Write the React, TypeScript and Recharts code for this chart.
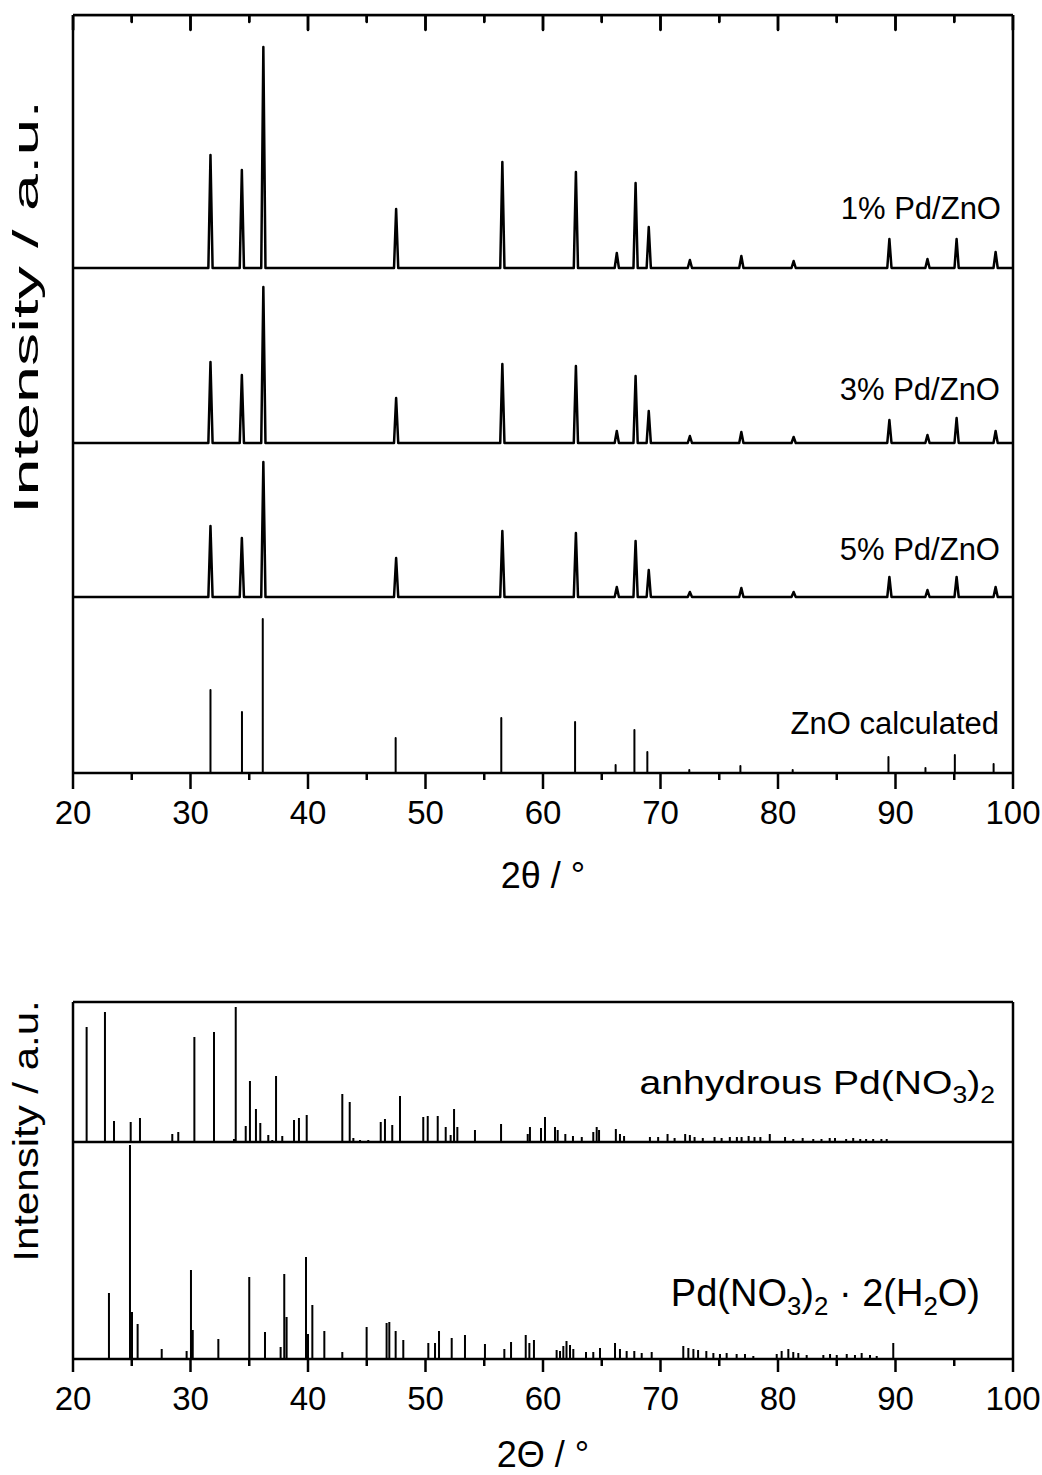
import React from "react";
import { ComposedChart, Line, XAxis, YAxis, ReferenceLine } from "recharts";

const FONT = '"Liberation Sans", Arial, Helvetica, sans-serif';

// 2θ ticks, labels only on the tens
const TICKS = [20, 25, 30, 35, 40, 45, 50, 55, 60, 65, 70, 75, 80, 85, 90, 95, 100];

// ---- top panel: ZnO reflections ----
const ZNO_POS = [31.7, 34.37, 36.2, 47.5, 56.54, 62.8, 66.28, 67.88, 69.0, 72.5, 76.88, 81.33, 89.48, 92.72, 95.2, 98.52];
const PD1_INT = [113, 98, 221, 59, 106, 96, 15, 85, 41, 8, 12, 7, 29, 9, 29, 16];
const PD3_INT = [81, 68, 156, 45, 79, 77, 12, 67, 32, 7, 11, 6, 23, 8, 25, 12];
const PD5_INT = [71, 59, 135, 39, 66, 64, 10, 56, 27, 5, 9, 5, 20, 7, 20, 10];
const ZNO_CALC_POS = [31.7, 34.38, 36.15, 47.46, 56.45, 62.73, 66.18, 67.78, 68.88, 72.45, 76.8, 81.25, 89.4, 92.55, 95.05, 98.35];
const ZNO_CALC_INT = [83, 61, 154, 35, 55, 51, 8, 43, 21, 3, 7, 3, 16, 5, 18, 9];

// vertical offsets of the stacked patterns (a.u.)
const TOP_MAX = 758;
const OFFSET_PD1 = 505;
const OFFSET_PD3 = 330;
const OFFSET_PD5 = 176;
const OFFSET_CALC = 0;

// ---- bottom panel: Pd nitrate reference patterns ----
const ANHYD_POS = [
  21.16, 22.72, 23.49, 24.91, 25.7, 28.45, 28.96, 30.33, 32.0, 33.7, 33.85, 34.7, 35.06, 35.57, 35.94, 36.62,
  36.96, 37.28, 37.81, 38.81, 39.23, 39.89, 41.59, 42.92, 43.55, 43.86, 44.43, 45.13, 46.19, 46.55, 47.17, 47.83,
  49.81, 50.19, 51.04, 51.72, 52.14, 52.43, 52.71, 54.21, 55.72, 56.43, 56.91, 58.7, 58.89, 59.83, 60.17, 61.02,
  61.25, 61.9, 62.55, 63.3, 64.28, 64.57, 64.77, 66.2, 66.55, 66.9, 69.1, 69.8, 70.6, 71.2, 72.1, 72.5, 72.9,
  73.6, 74.6, 75.2, 75.9, 76.5, 76.9, 77.5, 78.0, 78.5, 79.3, 80.6, 81.3, 82.1, 83.0, 83.7, 84.4, 84.85, 85.8,
  86.4, 87.0, 87.5, 88.1, 88.8, 89.25,
];
const ANHYD_INT = [
  115, 130, 21, 20, 24, 8, 10, 105, 110, 3, 135, 16, 61, 33, 19, 7,
  2, 66, 6, 22, 24, 27, 1, 48, 40, 4, 2, 2, 20, 23, 17, 46,
  25, 26, 26, 15, 7, 33, 15, 12, 1, 18, 1, 8, 15, 14, 25, 15,
  12, 8, 6, 5, 10, 15, 12, 13, 8, 6, 5, 5, 8, 4, 8, 7, 5,
  4, 5, 4, 5, 5, 5, 6, 5, 5, 8, 5, 3, 4, 3, 3, 4, 4, 3,
  4, 3, 3, 3, 3, 3,
];
const HYDR_POS = [
  23.06, 24.85, 25.02, 25.5, 27.55, 29.67, 30.04, 30.19, 32.37, 35.0, 36.34, 37.67, 37.98, 38.18, 39.83, 40.0,
  40.37, 41.39, 42.92, 44.99, 46.69, 46.92, 47.46, 48.11, 50.24, 50.81, 51.15, 52.23, 53.36, 55.06, 56.71, 57.28,
  58.53, 58.84, 59.23, 61.16, 61.45, 61.73, 62.0, 62.3, 62.58, 63.66, 64.28, 64.85, 66.13, 66.55, 67.12, 67.77,
  68.4, 69.25, 71.94, 72.37, 72.8, 73.2, 73.9, 74.5, 75.06, 75.63, 76.48, 77.19, 77.9, 79.89, 80.31, 80.88, 81.3,
  81.73, 82.44, 83.86, 84.43, 85.0, 85.85, 86.55, 87.12, 87.83, 88.4, 89.81,
];
const HYDR_INT = [
  66, 214, 47, 35, 10, 8, 89, 29, 20, 82, 27, 12, 85, 42, 102, 25,
  54, 28, 7, 32, 36, 37, 28, 19, 16, 16, 28, 21, 24, 15, 10, 17,
  24, 16, 19, 9, 8, 13, 18, 14, 10, 7, 7, 11, 16, 10, 8, 8,
  6, 7, 13, 11, 10, 9, 8, 6, 5, 6, 5, 5, 3, 5, 8, 10, 7,
  6, 4, 4, 5, 4, 5, 4, 6, 4, 3, 16,
];
const BOTTOM_MAX = 357;
const OFFSET_ANHYD = 217;
const OFFSET_HYDR = 0;

// inward tick lengths on the top frame edge (a.u., 1 unit = 1px in the top panel)
const TOP_TICK_LEN = TICKS.map((t) => (t % 10 === 0 ? -15 : -7));

type Pt = { x: number; y: number };

// peak list -> polyline (halfWidth 0 gives stick pattern)
function pattern(pos: number[], int: number[], base: number, halfWidth: number): Pt[] {
  const pts: Pt[] = [{ x: 20, y: base }];
  pos.forEach((p, i) => {
    pts.push({ x: p - halfWidth, y: base }, { x: p, y: base + int[i] }, { x: p + halfWidth, y: base });
  });
  pts.push({ x: 100, y: base });
  return pts;
}

// bottom tick with label; when plotHeight > 0 it also marks the top frame edge (inward)
const makeTick = (majorLen: number, minorLen: number, plotHeight: number) => (props: any) => {
  const { x, y, payload } = props;
  const major = payload.value % 10 === 0;
  const top = y - plotHeight;
  return (
    <g>
      <line x1={x} x2={x} y1={y} y2={y + (major ? majorLen : minorLen)} stroke="#000" strokeWidth={2.5} />
      {plotHeight > 0 && (
        <line x1={x} x2={x} y1={top} y2={top + (major ? 15 : 7)} stroke="#000" strokeWidth={2.5} />
      )}
      {major && (
        <text x={x} y={y + 51} textAnchor="middle" fontSize={33} fontFamily={FONT} fill="#000">
          {payload.value}
        </text>
      )}
    </g>
  );
};

const frameLines = (max: number) => [
  <ReferenceLine key="fl" x={20} stroke="#000" strokeWidth={2.5} />,
  <ReferenceLine key="fr" x={100} stroke="#000" strokeWidth={2.5} />,
  <ReferenceLine key="fb" y={0} stroke="#000" strokeWidth={2.5} />,
  <ReferenceLine key="ft" y={max} stroke="#000" strokeWidth={2.5} />,
];

function TopChart() {
  const traces = [
    { key: "pd1", data: pattern(ZNO_POS, PD1_INT, OFFSET_PD1, 0.18), w: 2.5 },
    { key: "pd3", data: pattern(ZNO_POS, PD3_INT, OFFSET_PD3, 0.18), w: 2.5 },
    { key: "pd5", data: pattern(ZNO_POS, PD5_INT, OFFSET_PD5, 0.18), w: 2.5 },
    { key: "calc", data: pattern(ZNO_CALC_POS, ZNO_CALC_INT, OFFSET_CALC, 0), w: 2 },
    { key: "topTicks", data: pattern(TICKS, TOP_TICK_LEN, TOP_MAX, 0), w: 2.5 },
  ];
  return (
    <ComposedChart width={1042} height={900} margin={{ top: 15, right: 29, bottom: 126, left: 73 }}>
      <XAxis
        dataKey="x"
        type="number"
        domain={[20, 100]}
        ticks={TICKS}
        interval={0}
        height={1}
        axisLine={false}
        tickLine={false}
        tickSize={0}
        tickMargin={0}
        tick={makeTick(16, 7, TOP_MAX)}
        allowDataOverflow
      />
      <YAxis hide type="number" domain={[0, TOP_MAX]} allowDataOverflow />
      {frameLines(TOP_MAX)}
      {traces.map((t) => (
        <Line
          key={t.key}
          data={t.data}
          dataKey="y"
          type="linear"
          dot={false}
          activeDot={false}
          stroke="#000"
          strokeWidth={t.w}
          strokeLinejoin="round"
          isAnimationActive={false}
        />
      ))}
    </ComposedChart>
  );
}

function BottomChart() {
  const traces = [
    { key: "anhyd", data: pattern(ANHYD_POS, ANHYD_INT, OFFSET_ANHYD, 0) },
    { key: "hydr", data: pattern(HYDR_POS, HYDR_INT, OFFSET_HYDR, 0) },
  ];
  return (
    <ComposedChart width={1042} height={575} margin={{ top: 102, right: 29, bottom: 115, left: 73 }}>
      <XAxis
        dataKey="x"
        type="number"
        domain={[20, 100]}
        ticks={TICKS}
        interval={0}
        height={1}
        axisLine={false}
        tickLine={false}
        tickSize={0}
        tickMargin={0}
        tick={makeTick(13, 7, 0)}
        allowDataOverflow
      />
      <YAxis hide type="number" domain={[0, BOTTOM_MAX]} allowDataOverflow />
      {frameLines(BOTTOM_MAX)}
      <ReferenceLine y={OFFSET_ANHYD} stroke="#000" strokeWidth={2.5} />
      {traces.map((t) => (
        <Line
          key={t.key}
          data={t.data}
          dataKey="y"
          type="linear"
          dot={false}
          activeDot={false}
          stroke="#000"
          strokeWidth={2}
          isAnimationActive={false}
        />
      ))}
    </ComposedChart>
  );
}

const sub = { fontSize: "0.68em", position: "relative" as const, top: "0.36em" };

function RightLabel({ right, baseline, size, scale = 1, children }: any) {
  return (
    <div
      style={{
        position: "absolute",
        left: 0,
        width: right,
        top: baseline - 0.8465 * size,
        fontSize: size,
        lineHeight: 1,
        textAlign: "right",
        whiteSpace: "nowrap",
        transform: `scaleX(${scale})`,
        transformOrigin: `${right}px 50%`,
        pointerEvents: "none",
      }}
    >
      {children}
    </div>
  );
}

function YLabel({ cx, cy, size, stretch }: any) {
  return (
    <div style={{ position: "absolute", left: cx, top: cy, width: 0, height: 0 }}>
      <div
        style={{
          position: "absolute",
          left: 0,
          top: 0,
          fontSize: size,
          lineHeight: 1,
          whiteSpace: "nowrap",
          transform: `translate(-50%, -50%) rotate(-90deg) scaleX(${stretch})`,
        }}
      >
        Intensity / a.u.
      </div>
    </div>
  );
}

function XLabel({ baseline, size, children }: any) {
  return (
    <div
      style={{
        position: "absolute",
        left: 73,
        width: 940,
        top: baseline - 0.8465 * size,
        fontSize: size,
        lineHeight: 1,
        textAlign: "center",
        whiteSpace: "nowrap",
      }}
    >
      {children}
    </div>
  );
}

export default function App() {
  return (
    <div
      style={{
        position: "absolute",
        left: 0,
        top: 0,
        width: 1042,
        height: 1475,
        background: "#fff",
        color: "#000",
        fontFamily: FONT,
        overflow: "hidden",
      }}
    >
      <div style={{ position: "absolute", left: 0, top: 0 }}>
        <TopChart />
      </div>
      <div style={{ position: "absolute", left: 0, top: 900 }}>
        <BottomChart />
      </div>

      <RightLabel right={1001} baseline={219} size={31}>1% Pd/ZnO</RightLabel>
      <RightLabel right={1000} baseline={400} size={31}>3% Pd/ZnO</RightLabel>
      <RightLabel right={1000} baseline={560} size={31}>5% Pd/ZnO</RightLabel>
      <RightLabel right={999} baseline={734} size={31}>ZnO calculated</RightLabel>

      <RightLabel right={995} baseline={1094} size={34} scale={1.15}>
        anhydrous Pd(NO<span style={sub}>3</span>)<span style={sub}>2</span>
      </RightLabel>
      <RightLabel right={980} baseline={1306} size={38}>
        Pd(NO<span style={sub}>3</span>)<span style={sub}>2</span> {"\u00b7"} 2(H<span style={sub}>2</span>O)
      </RightLabel>

      <YLabel cx={25} cy={307} size={35} stretch={1.9} />
      <YLabel cx={25} cy={1131} size={35} stretch={1.2} />

      <XLabel baseline={888} size={36}>2θ / °</XLabel>
      <XLabel baseline={1467} size={36}>2Θ / °</XLabel>
    </div>
  );
}
